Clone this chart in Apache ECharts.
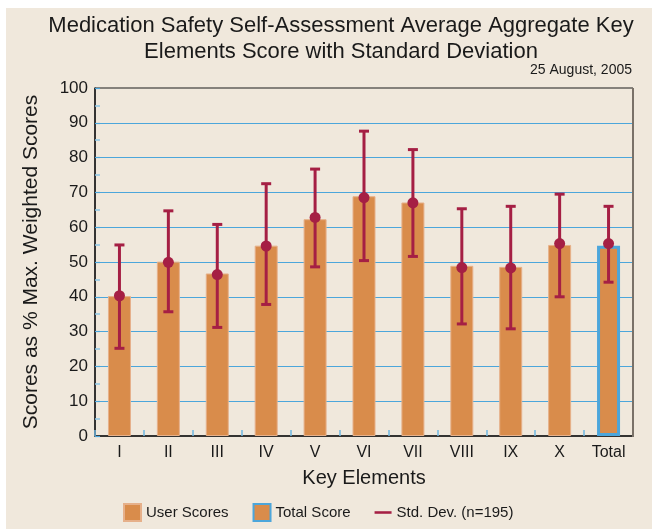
<!DOCTYPE html>
<html>
<head>
<meta charset="utf-8">
<script src="https://cdn.jsdelivr.net/npm/echarts@6/dist/echarts.min.js"></script>
<style>
  html, body { margin: 0; padding: 0; background: #ffffff; }
  #chart { width: 652px; height: 529px; }
</style>
</head>
<body>
<div id="chart"></div>
<script>
// categories and values
const categories = ['I', 'II', 'III', 'IV', 'V', 'VI', 'VII', 'VIII', 'IX', 'X', 'Total'];
const userScores = [40.2, 50.1, 46.7, 54.7, 62.3, 68.9, 67.1, 48.9, 48.6, 54.9, null];
const totalScore = [null, null, null, null, null, null, null, null, null, null, 54.7];
const meanValues = [40.3, 49.9, 46.4, 54.6, 62.8, 68.5, 67.0, 48.4, 48.3, 55.3, 55.3];
const sdLow = [25.2, 35.7, 31.2, 37.8, 48.6, 50.4, 51.6, 32.2, 30.8, 40.0, 44.2];
const sdHigh = [54.9, 64.7, 60.8, 72.5, 76.7, 87.6, 82.3, 65.3, 66.0, 69.5, 66.0];
const yTicks = [0, 10, 20, 30, 40, 50, 60, 70, 80, 90, 100];

const cream = '#f0e8dc';
const orange = '#d98c4b';
const crimson = '#a51f44';
const blue = '#4ca6db';
const font = '"Liberation Sans", Arial, sans-serif';

const chart = echarts.init(document.getElementById('chart'));

const errorData = categories.map((c, i) => [i, sdLow[i], sdHigh[i], meanValues[i]]);

const option = {
  backgroundColor: '#ffffff',
  animation: false,
  textStyle: { fontFamily: font },
  graphic: [
    { type: 'rect', z: -10, shape: { x: 6, y: 8, width: 646, height: 521 }, style: { fill: cream } },
    {
      type: 'text', z: 10,
      style: {
        text: 'Medication Safety Self-Assessment Average Aggregate Key\nElements Score with Standard Deviation',
        x: 341, y: 13, align: 'center', verticalAlign: 'top',
        font: '22px ' + font, fill: '#1a1a1a', lineHeight: 26
      }
    },
    {
      type: 'text', z: 10,
      style: {
        text: '25 August, 2005', x: 632, y: 63, align: 'right', verticalAlign: 'top',
        font: '14px ' + font, fill: '#1a1a1a'
      }
    },
    {
      type: 'line', z: 20,
      shape: { x1: 633, y1: 88, x2: 633, y2: 437 },
      style: { stroke: '#7a7168', lineWidth: 2 }
    }
  ],
  grid: {
    left: 95, right: 19, top: 88, bottom: 93,
    show: true, borderColor: '#1a1a1a', borderWidth: 1, backgroundColor: 'transparent'
  },
  legend: {
    bottom: 2, left: 118, itemGap: 24, itemWidth: 17, itemHeight: 17,
    textStyle: { fontSize: 15, color: '#1a1a1a', fontFamily: font },
    data: [
      { name: 'User Scores', icon: 'rect' },
      { name: 'Total Score', icon: 'rect' },
      { name: 'Std. Dev. (n=195)', icon: 'path://M0,0 L20,0 L20,3 L0,3 Z', itemStyle: { color: crimson } }
    ]
  },
  xAxis: {
    type: 'category',
    data: categories,
    name: 'Key Elements',
    nameLocation: 'middle',
    nameGap: 32,
    nameTextStyle: { fontSize: 20, color: '#1a1a1a' },
    axisLine: { lineStyle: { color: '#1a1a1a', width: 1.5 } },
    axisTick: { show: true, inside: true, length: 6, lineStyle: { color: '#6fb8e2', width: 1.5 } },
    axisLabel: { fontSize: 16, color: '#1a1a1a', margin: 9 }
  },
  yAxis: {
    type: 'value',
    min: 0, max: 100, interval: 10,
    name: 'Scores as % Max. Weighted Scores',
    nameLocation: 'middle',
    nameGap: 53,
    nameTextStyle: { fontSize: 21, color: '#1a1a1a' },
    axisLine: { show: true, lineStyle: { color: '#1a1a1a', width: 1.5 } },
    axisTick: { show: true, inside: true, length: 5, lineStyle: { color: blue, width: 1.2 } },
    minorTick: { show: true, splitNumber: 2, length: 5, lineStyle: { color: '#8cc6e6', width: 1.5 } },
    axisLabel: {
      fontSize: 17, color: '#1a1a1a', margin: 7,
      formatter: v => (yTicks.indexOf(v) >= 0 ? String(v) : '')
    },
    splitLine: { show: true, showMinLine: false, showMaxLine: false, lineStyle: { color: blue, width: 1.2 } }
  },
  series: [
    {
      name: 'User Scores', type: 'bar', data: userScores, barWidth: 23,
      itemStyle: { color: orange, borderColor: '#e6b08a', borderWidth: 1 }
    },
    {
      name: 'Total Score', type: 'bar', data: totalScore, barWidth: 23, barGap: '-100%',
      itemStyle: { color: orange, borderColor: blue, borderWidth: 3 }
    },
    {
      name: 'Std. Dev. (n=195)', type: 'custom', z: 5,
      itemStyle: { color: crimson },
      data: errorData,
      renderItem: function (params, api) {
        const x = api.value(0);
        const lo = api.coord([x, api.value(1)]);
        const hi = api.coord([x, api.value(2)]);
        const mid = api.coord([x, api.value(3)]);
        const cap = 5;
        const st = { stroke: crimson, lineWidth: 3 };
        return {
          type: 'group',
          children: [
            { type: 'line', shape: { x1: hi[0], y1: hi[1], x2: lo[0], y2: lo[1] }, style: st },
            { type: 'line', shape: { x1: hi[0] - cap, y1: hi[1], x2: hi[0] + cap, y2: hi[1] }, style: st },
            { type: 'line', shape: { x1: lo[0] - cap, y1: lo[1], x2: lo[0] + cap, y2: lo[1] }, style: st },
            { type: 'circle', shape: { cx: mid[0], cy: mid[1], r: 5.5 }, style: { fill: crimson } }
          ]
        };
      }
    }
  ]
};

chart.setOption(option);
</script>
</body>
</html>
